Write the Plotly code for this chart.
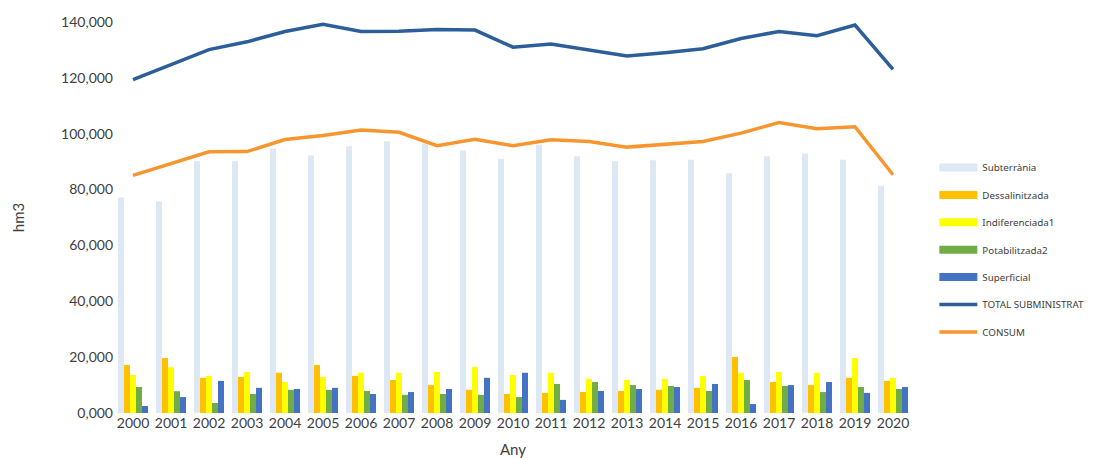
import plotly.graph_objects as go

years = [str(y) for y in range(2000, 2021)]

subterrania = [77.2, 75.7, 90.1, 90.1, 94.7, 92.2, 95.5, 97.3, 96.4, 94.0, 91.0,
               96.1, 91.9, 90.1, 90.5, 90.7, 85.8, 91.9, 92.9, 90.7, 81.4]
dessalinitzada = [17.2, 19.7, 12.6, 12.9, 14.4, 17.2, 13.3, 11.8, 10.0, 8.3, 6.8,
                  7.2, 7.5, 7.9, 8.3, 9.0, 20.1, 11.1, 10.0, 12.6, 11.5]
indiferenciada1 = [13.6, 16.4, 13.3, 14.7, 11.1, 12.9, 14.4, 14.4, 14.7, 16.5, 13.6,
                   14.4, 12.2, 11.8, 12.2, 13.3, 14.4, 14.7, 14.4, 19.7, 12.6]
potabilitzada2 = [9.3, 7.8, 3.6, 6.8, 8.3, 8.3, 7.9, 6.5, 6.8, 6.5, 5.7,
                  10.4, 11.1, 10.0, 9.7, 7.9, 11.8, 9.7, 7.5, 9.3, 8.6]
superficial = [2.5, 5.7, 11.5, 9.0, 8.6, 9.0, 6.8, 7.5, 8.6, 12.6, 14.4,
               4.7, 7.9, 8.6, 9.3, 10.4, 3.2, 10.0, 11.1, 7.2, 9.3]
total_subministrat = [119.4, 124.8, 130.1, 132.9, 136.6, 139.2, 136.6, 136.7, 137.3, 137.1, 131.0,
                      132.1, 129.9, 127.8, 129.0, 130.4, 134.1, 136.6, 135.1, 138.9, 123.0]
consum = [85.1, 89.2, 93.5, 93.6, 97.9, 99.4, 101.3, 100.5, 95.7, 98.0, 95.7,
          97.8, 97.2, 95.2, 96.1, 97.2, 100.2, 104.0, 101.8, 102.5, 85.3]

# values are in thousands (label shows e.g. 140,000)
scale = 1000

tick_vals = [0, 20, 40, 60, 80, 100, 120, 140]
tick_text = ["0,000", "20,000", "40,000", "60,000", "80,000", "100,000", "120,000", "140,000"]

bar_series = [
    ("Subterrània", subterrania, "#DDE8F4"),
    ("Dessalinitzada", dessalinitzada, "#FFC000"),
    ("Indiferenciada1", indiferenciada1, "#FFFF00"),
    ("Potabilitzada2", potabilitzada2, "#70AD47"),
    ("Superficial", superficial, "#4472C4"),
]
line_series = [
    ("TOTAL SUBMINISTRAT", total_subministrat, "#2C5F9A"),
    ("CONSUM", consum, "#F7962F"),
]

fig = go.Figure()
for i, (name, vals, col) in enumerate(bar_series):
    fig.add_trace(go.Bar(x=years, y=[v * scale for v in vals], name=name,
                         marker=dict(color=col, line=dict(width=0)),
                         showlegend=False, legendgroup=f"g{i}"))
for i, (name, vals, col) in enumerate(line_series):
    fig.add_trace(go.Scatter(x=years, y=[v * scale for v in vals], name=name,
                             mode="lines", line=dict(color=col, width=3.5),
                             showlegend=False, legendgroup=f"l{i}"))

# legend entries (proxies)
for i, (name, vals, col) in enumerate(bar_series):
    fig.add_trace(go.Scatter(x=[None], y=[None], name=name, mode="lines",
                             line=dict(color=col, width=8), legendgroup=f"g{i}",
                             showlegend=True, hoverinfo="skip"))
for i, (name, vals, col) in enumerate(line_series):
    fig.add_trace(go.Scatter(x=[None], y=[None], name=name, mode="lines",
                             line=dict(color=col, width=3.5), legendgroup=f"l{i}",
                             showlegend=True, hoverinfo="skip"))

fig.update_layout(
    width=1110, height=450,
    margin=dict(l=106, r=206, t=14, b=45, autoexpand=False),
    paper_bgcolor="white", plot_bgcolor="white",
    barmode="group", bargap=0.21, bargroupgap=0,
    font=dict(family="Lato", color="#404040"),
    legend=dict(x=1.028, xanchor="left", y=0.665, yanchor="top",
                traceorder="grouped", tracegroupgap=8.4,
                font=dict(size=9.8, color="#404040", family="Noto Sans"),
                itemwidth=38, bgcolor="rgba(0,0,0,0)"),
)
fig.update_xaxes(type="category", showgrid=False, showline=False, zeroline=False,
                 automargin=False,
                 tickfont=dict(size=14, color="#404040"), ticks="",
                 title=dict(text="Any", font=dict(size=15, color="#404040"), standoff=16))
fig.update_yaxes(range=[0, 140 * scale], tickvals=[v * scale for v in tick_vals], ticktext=tick_text,
                 showgrid=False, showline=False, zeroline=False, automargin=False,
                 tickfont=dict(size=14, color="#404040"), ticks="",
                 title=dict(text="hm3", font=dict(size=15, color="#404040"), standoff=32))

fig.write_html("out.html")
